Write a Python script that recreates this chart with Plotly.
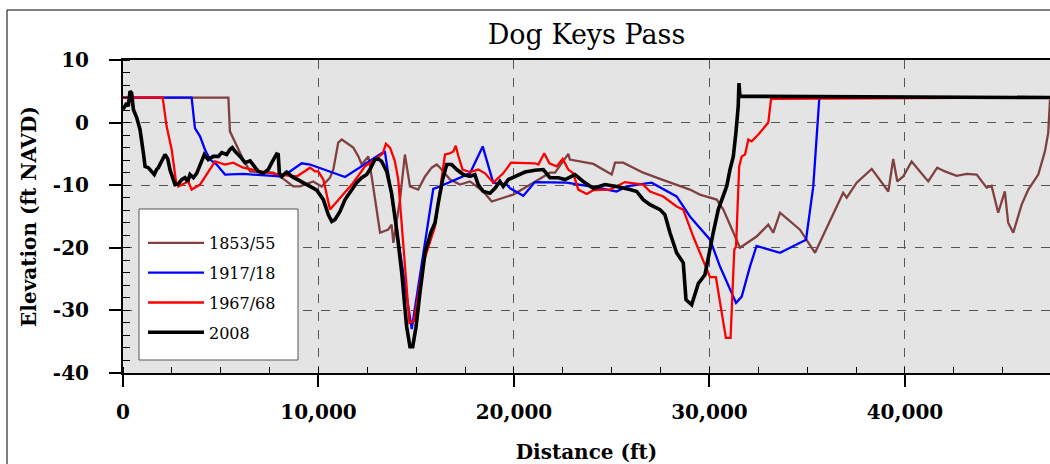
import plotly.graph_objects as go

# ---------------- data ----------------
series_names = ["1853/55", "1917/18", "1967/68", "2008"]

x_1853 = [0, 5390, 5470, 5820, 6150, 6500, 7690, 8120, 8710, 9050, 9730, 10160, 10590, 10760, 11010,
          11190, 11780, 12040, 12210, 12550, 12720, 13150, 13570, 13740, 13830, 14170, 14420, 14680,
          15100, 15450, 15790, 16050, 16220, 16730, 17240, 17750, 18430, 18860, 19450, 19960, 20990,
          21840, 22100, 22610, 22780, 22860, 24060, 25000, 25170, 25590, 26610, 27470, 29000, 29510,
          30370, 30710, 31560, 32410, 33010, 33260, 33610, 34630, 34970, 35400, 36840, 37020, 37530,
          38300, 39150, 39400, 39610, 39910, 40340, 40680, 41190, 41650, 42050, 42640, 43160, 43670,
          44180, 44430, 44770, 45110, 45280, 45540, 45970, 46310, 46820, 47160, 47330, 47420]
y_1853 = [4, 4, -1.4, -3.8, -5.9, -7.8, -8.0, -8.8, -10.2, -10.2, -9.4, -10.2, -8.8, -7.5, -3.2,
          -2.7, -4.0, -5.4, -6.7, -5.4, -8.6, -17.6, -17.1, -16.3, -19.2, -12.3, -5.1, -10.2,
          -10.7, -8.6, -7.2, -6.7, -7.2, -9.1, -9.9, -9.4, -11.0, -12.6, -12.0, -11.5, -9.6,
          -8.0, -8.0, -5.6, -5.0, -5.9, -6.6, -8.3, -6.4, -6.4, -8.0, -9.0, -10.7, -11.5,
          -12.3, -13.9, -20.0, -18.2, -16.3, -17.6, -14.4, -17.1, -18.7, -20.8, -11.2, -12.0, -9.6,
          -7.4, -11.0, -5.8, -9.4, -8.6, -6.2, -7.5, -9.4, -7.2, -7.8, -8.5, -8.2, -8.3,
          -10.4, -10.1, -14.4, -11.0, -16.0, -17.6, -13.1, -10.7, -8.3, -4.6, -1.6, 3.7]

x_1917 = [0, 3510, 3680, 3940, 4190, 4450, 4790, 5220, 6150, 8030,
          8540, 9140, 9570, 11360, 13230, 13400, 14770, 15870, 16050, 17750,
          18400, 18940, 19630, 19800, 20480, 21070, 22690, 23890, 25250, 25760,
          27040, 28320, 29000, 30030, 30540, 31140, 31360, 31650, 32070, 32410,
          33610, 34940, 35310, 35620, 47420]
y_1917 = [4, 4, -0.9, -2.2, -4.3, -5.9, -6.7, -8.3, -8.2, -8.6,
          -7.8, -6.5, -6.7, -8.7, -4.9, -4.7, -33.0, -10.6, -10.4, -8.1,
          -3.8, -9.6, -9.9, -10.5, -11.7, -9.5, -9.6, -10.2, -11.0, -10.2,
          -9.6, -11.8, -15.0, -18.7, -23.0, -27.2, -28.8, -27.8, -23.0, -19.7,
          -20.8, -18.7, -10.2, 4, 4]

x_1967 = [0, 2030, 2230, 2490, 2710, 2830, 3340, 3510, 3940, 4710,
          5220, 5640, 6150, 7010, 8030, 8890, 9570, 9820, 9990, 10250,
          10590, 11780, 12380, 13060, 13280, 13450, 13660, 13910, 14080, 14650,
          14890, 15360, 15960, 16470, 16730, 16900, 17020, 17150, 17370, 17750,
          18170, 18520, 18940, 19450, 19850, 21070, 21250, 21550, 21810, 22180,
          22490, 22780, 23030, 23290, 23720, 24060, 24910, 25680, 26610, 26960,
          27640, 28320, 28660, 29170, 29680, 30030, 30330, 30840, 31080, 31270,
          31360, 31520, 31650, 31820, 31990, 32160, 32500, 33010, 33150, 47420]
y_1967 = [4, 4, -0.6, -4.3, -9.4, -10.2, -9.4, -10.7, -9.9, -6.2,
          -6.7, -6.4, -7.2, -7.8, -8.3, -8.6, -7.2, -7.8, -7.8, -9.1,
          -13.9, -9.6, -7.0, -5.5, -5.0, -3.4, -4.0, -6.2, -9.1, -32.0,
          -31.7, -22.4, -16.6, -5.1, -4.9, -4.6, -3.7, -5.3, -7.5, -7.9,
          -7.5, -8.1, -9.6, -8.1, -6.4, -6.5, -6.7, -4.9, -6.5, -7.0,
          -5.8, -7.5, -8.1, -10.7, -11.4, -10.8, -10.7, -9.5, -9.9, -11.0,
          -11.8, -13.4, -13.9, -18.2, -21.9, -24.7, -24.7, -34.4, -34.4, -20.3,
          -19.8, -7.0, -5.4, -5.1, -2.7, -3.0, -1.9, 0.0, 3.8, 4]

x_2008 = [0, 190, 270, 360, 445, 530, 700, 870, 1040, 1130,
          1290, 1470, 1600, 1720, 1810, 2150, 2290, 2400, 2660, 2830,
          3000, 3170, 3310, 3430, 3600, 3770, 3990, 4160, 4360, 4620,
          4880, 5050, 5300, 5470, 5590, 5730, 5990, 6240, 6500, 6750,
          6920, 7180, 7430, 7610, 7860, 7940, 8000, 8120, 8370, 8630,
          9140, 9570, 9910, 10250, 10500, 10680, 10840, 11100, 11360, 11700,
          11950, 12210, 12470, 12630, 12890, 13060, 13230, 13490, 13740, 14000,
          14260, 14510, 14680, 14820, 14990, 15190, 15450, 15740, 15960, 16130,
          16350, 16560, 16810, 17070, 17410, 17750, 18000, 18170, 18430, 18770,
          19030, 19280, 19450, 19710, 20050, 20560, 21070, 21500, 21840, 22270,
          22610, 23120, 23540, 24060, 24660, 25250, 25930, 26280, 26610, 26960,
          27470, 27720, 27980, 28320, 28660, 28800, 29090, 29430, 29770, 29940,
          30190, 30450, 30620, 30880, 31050, 31220, 31360, 31470, 31510, 31560,
          47420]
y_2008 = [2.1, 3.1, 2.6, 5.0, 4.7, 2.1, 0.8, -1.1, -4.8, -7.0,
          -7.2, -7.8, -8.3, -7.5, -7.2, -5.1, -5.8, -7.5, -9.9, -9.8,
          -9.1, -8.8, -9.4, -8.3, -8.8, -8.1, -6.4, -5.1, -5.9, -5.4,
          -5.4, -4.8, -5.1, -4.3, -4.0, -4.6, -5.4, -6.4, -6.1, -7.0,
          -7.8, -8.1, -7.5, -6.4, -5.0, -5.1, -8.1, -8.6, -7.9, -8.6,
          -9.4, -10.2, -10.8, -12.3, -14.7, -15.8, -15.5, -14.2, -12.3, -10.7,
          -9.6, -8.8, -8.3, -7.5, -5.9, -5.8, -6.2, -7.8, -11.3, -17.1,
          -24.0, -32.6, -35.8, -35.8, -32.6, -27.2, -20.8, -17.6, -16.0, -12.8,
          -9.1, -6.7, -6.7, -7.5, -8.3, -8.6, -8.3, -9.9, -11.0, -11.3,
          -10.5, -9.4, -10.2, -9.1, -8.6, -7.9, -7.6, -7.5, -8.8, -8.8,
          -9.1, -8.3, -9.4, -10.5, -9.9, -10.2, -10.7, -11.0, -12.3, -13.1,
          -13.9, -14.7, -17.6, -20.8, -22.4, -28.3, -29.1, -25.7, -24.3, -21.4,
          -17.6, -13.9, -12.3, -10.2, -7.5, -5.4, -1.4, 2.6, 6.3, 4.2,
          4]

x_tick_vals = [0, 10000, 20000, 30000, 40000]
x_tick_text = ["0", "10,000", "20,000", "30,000", "40,000"]
y_tick_vals = [-40, -30, -20, -10, 0, 10]
y_tick_text = ["-40", "-30", "-20", "-10", "0", "10"]

# ---------------- figure ----------------
colors = ["#804040", "#0000ff", "#ff0000", "#000000"]
widths = [2.3, 2.3, 2.3, 3.6]
xs = [x_1853, x_1917, x_1967, x_2008]
ys = [y_1853, y_1917, y_1967, y_2008]

fig = go.Figure()
for name, xv, yv, c, w in zip(series_names, xs, ys, colors, widths):
    fig.add_trace(go.Scatter(x=xv, y=yv, mode="lines", name=name, legendgroup=name,
                             line=dict(color=c, width=w)))

serif = "DejaVu Serif"
tickfont = dict(family=serif, size=20, color="black", weight="bold")

# pixel geometry of the plot area (used for paper-coordinate conversions)
L, R, T, B = 123, 1050, 60, 373
pw, ph = R - L, B - T

def px(xp):
    return (xp - L) / pw

def py(yp):
    return (B - yp) / ph

fig.update_layout(
    width=1050, height=464,
    margin=dict(l=L, r=1050 - R, t=T, b=464 - B, autoexpand=False),
    paper_bgcolor="white",
    plot_bgcolor="#e4e4e4",
    title=dict(text="Dog Keys Pass", x=0.5, xref="paper", y=1 - 35 / 464, yref="container",
               xanchor="center", yanchor="middle",
               font=dict(family=serif, size=27, color="black")),
    showlegend=True,
    legend=dict(x=px(143), y=py(226), xanchor="left", yanchor="top",
                bgcolor="rgba(0,0,0,0)", borderwidth=0,
                font=dict(family=serif, size=16, color="black"),
                traceorder="grouped", tracegroupgap=6, itemwidth=56),
    xaxis=dict(range=[0, 47420], tickvals=x_tick_vals, ticktext=x_tick_text,
               ticks="outside", ticklen=12, tickwidth=1.5, tickcolor="black",
               ticklabelstandoff=8,
               showline=True, linecolor="black", linewidth=2, mirror=True,
               showgrid=True, gridcolor="#555555", gridwidth=1, griddash="dash",
               zeroline=False, tickfont=tickfont,
               minor=dict(dtick=2500, ticks="inside", ticklen=6, tickwidth=1, tickcolor="black"),
               title=dict(text="Distance (ft)", standoff=22,
                          font=dict(family=serif, size=20, color="black", weight="bold"))),
    yaxis=dict(range=[-40, 10], tickvals=y_tick_vals, ticktext=y_tick_text,
               ticks="outside", ticklen=12, tickwidth=1.5, tickcolor="black",
               ticklabelstandoff=16,
               showline=True, linecolor="black", linewidth=2, mirror=True,
               showgrid=True, gridcolor="#555555", gridwidth=1, griddash="dash",
               zeroline=False, tickfont=tickfont,
               minor=dict(dtick=2, ticks="inside", ticklen=7, tickwidth=1, tickcolor="black"),
               title=dict(text="Elevation (ft NAVD)", standoff=11,
                          font=dict(family=serif, size=20, color="black", weight="bold"))),
)

# legend box
fig.add_shape(type="rect", xref="paper", yref="paper",
              x0=px(139), x1=px(298), y0=py(360), y1=py(209),
              line=dict(color="#555555", width=1), fillcolor="white", layer="above")

# outer frame of the figure
fig.add_shape(type="rect", xref="paper", yref="paper",
              x0=px(7), x1=px(1200), y0=py(600), y1=py(10),
              line=dict(color="black", width=1), fillcolor="rgba(0,0,0,0)", layer="above")

fig.write_html("out.html", config={"displayModeBar": False},
               post_script="document.body.style.margin='0';")
